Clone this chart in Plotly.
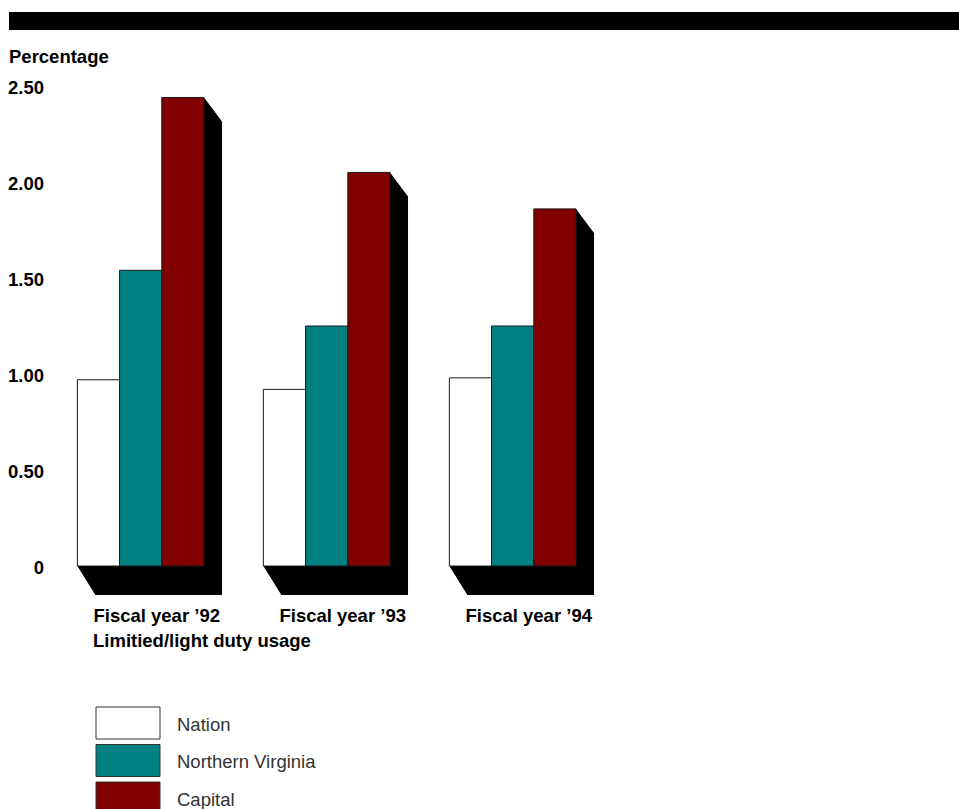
import plotly.graph_objects as go

# ---- data -------------------------------------------------------------
categories = ["Fiscal year \u201992", "Fiscal year \u201993", "Fiscal year \u201994"]
series_names = ["Nation", "Northern Virginia", "Capital"]
nation = [0.97, 0.92, 0.98]
northern_virginia = [1.54, 1.25, 1.25]
capital = [2.44, 2.05, 1.86]
y_ticks = [0, 0.5, 1.0, 1.5, 2.0, 2.5]
y_tick_labels = ["0", "0.50", "1.00", "1.50", "2.00", "2.50"]

series_values = [nation, northern_virginia, capital]
series_colors = ["#ffffff", "#008080", "#800000"]

# ---- geometry ----------------------------------------------------------
W, H = 959, 809
L, R, T, B = 50, 19, 60, 211
plot_w = W - L - R
plot_h = H - T - B
PX_X = 186.0          # pixels per category step
PX_Y = 192.0          # pixels per unit on the value axis
x0_px = 140.7         # pixel position of the first category centre
zero_px = 566.0       # pixel position of value 0
x_range = [(L - x0_px) / PX_X, (W - R - x0_px) / PX_X]
y_range = [-(T + plot_h - zero_px) / PX_Y, (zero_px - T) / PX_Y]

bargap = 0.319
group_w = 1 - bargap
dx = 18 / PX_X            # depth offset of the shadow, horizontal
dy_top = 24 / PX_Y        # depth offset at the top of the last bar
dy_floor = 29 / PX_Y      # depth offset of the floor

FONT = "Liberation Sans, Arial, Helvetica, sans-serif"
FS = 18.5

fig = go.Figure()
xs = list(range(len(categories)))
for name, vals, col in zip(series_names, series_values, series_colors):
    fig.add_trace(go.Bar(
        x=xs, y=vals, name=name,
        marker=dict(color=col, line=dict(color="#1a1a1a", width=1)),
        hoverinfo="x+y+name", showlegend=False,
    ))

# black extruded shadow behind each group
shapes = []
for i, top in enumerate(capital):
    xl = i - group_w / 2
    xr = i + group_w / 2
    path = (f"M {xl},0 L {xl + dx},{-dy_floor} L {xr + dx},{-dy_floor} "
            f"L {xr + dx},{top - dy_top} L {xr},{top} L {xr},0 Z")
    shapes.append(dict(type="path", path=path, xref="x", yref="y",
                       fillcolor="black", line=dict(width=0), layer="below"))

# heading band
shapes.append(dict(type="rect", xref="paper", yref="paper",
                   xanchor=0, yanchor=1, xsizemode="pixel", ysizemode="pixel",
                   x0=9 - L, x1=W - L, y0=T - 12, y1=T - 30,
                   fillcolor="black", line=dict(width=0)))

annotations = [
    dict(text="Percentage", xref="paper", yref="paper", x=0, y=1,
         xanchor="left", yanchor="middle", xshift=7 - L, yshift=T - 56,
         showarrow=False, font=dict(family=FONT, size=FS, color="black", weight="bold")),
    dict(text="Limitied/light duty usage", xref="paper", yref="paper", x=0, y=0,
         xanchor="left", yanchor="middle", xshift=91 - L, yshift=-(640 - (T + plot_h)),
         showarrow=False, font=dict(family=FONT, size=FS, color="black", weight="bold")),
]

# legend drawn as large swatches
bottom_px = T + plot_h
for k, (name, col) in enumerate(zip(series_names, series_colors)):
    top_px = 707 + k * 37.5
    shapes.append(dict(type="rect", xref="paper", yref="paper",
                       xanchor=0, yanchor=0, xsizemode="pixel", ysizemode="pixel",
                       x0=96 - L, x1=160 - L,
                       y0=bottom_px - top_px, y1=bottom_px - (top_px + 32),
                       fillcolor=col, line=dict(color="#333333", width=1)))
    annotations.append(dict(text=name, xref="paper", yref="paper", x=0, y=0,
                            xanchor="left", yanchor="middle",
                            xshift=175 - L, yshift=bottom_px - (top_px + 17),
                            showarrow=False,
                            font=dict(family=FONT, size=FS, color="#333333")))

fig.update_layout(
    width=W, height=H,
    margin=dict(l=L, r=R, t=T, b=B, pad=0, autoexpand=False),
    paper_bgcolor="white", plot_bgcolor="white",
    barmode="group", bargap=bargap, bargroupgap=0,
    showlegend=False,
    shapes=shapes, annotations=annotations,
    xaxis=dict(type="linear", range=x_range, showgrid=False, zeroline=False,
               showline=False, ticks="", ticklabelstandoff=4, automargin=False,
               tickvals=[x + 16 / PX_X for x in xs], ticktext=categories,
               tickfont=dict(family=FONT, size=FS, color="black", weight="bold")),
    yaxis=dict(range=y_range, showgrid=False, zeroline=False, showline=False,
               ticks="", ticklabelstandoff=5, ticklabelshift=2, automargin=False,
               tickvals=y_ticks, ticktext=y_tick_labels,
               tickfont=dict(family=FONT, size=FS, color="black", weight="bold")),
)

fig.write_html("out.html")
